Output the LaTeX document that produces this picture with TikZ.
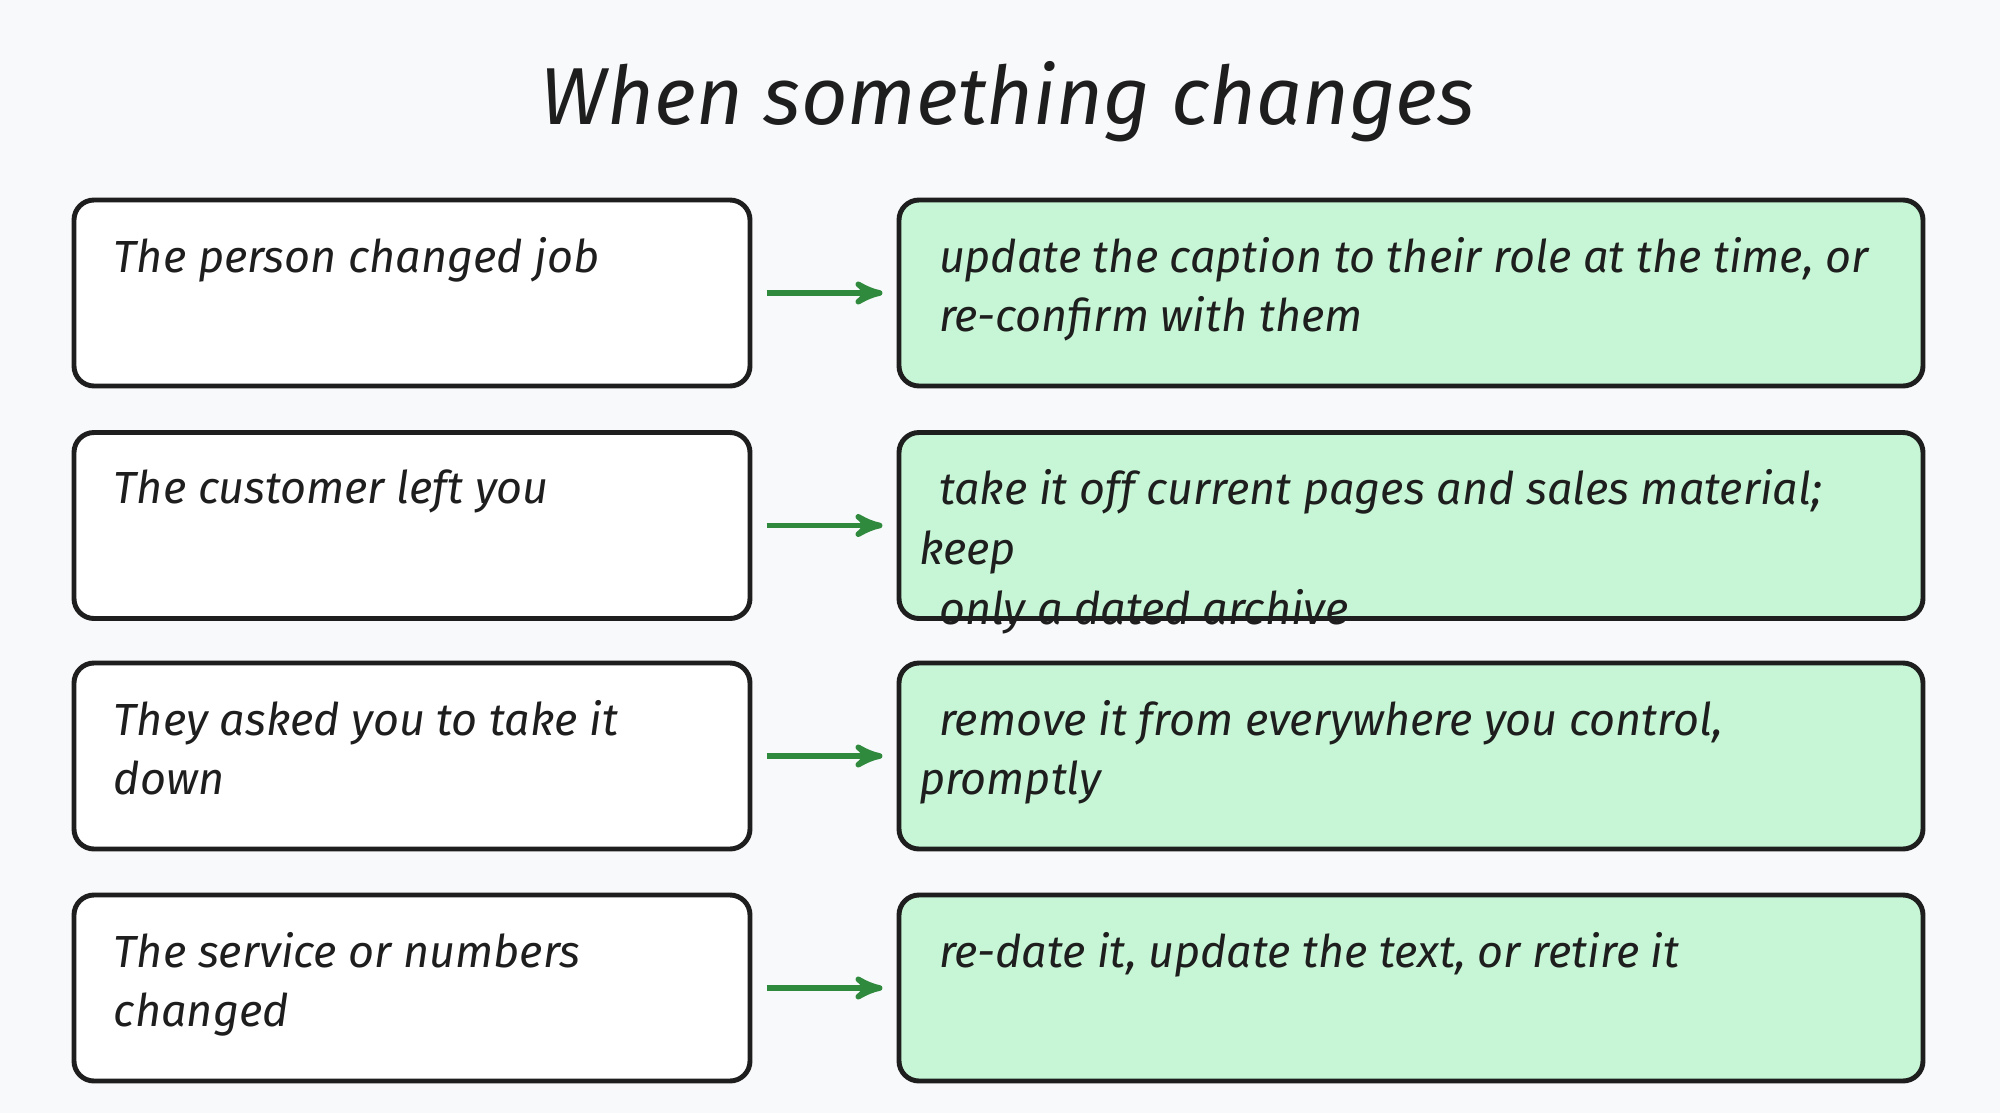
\documentclass[tikz,border=0pt]{standalone}
\usepackage{fontspec}
\setmainfont{Fira Sans}
\usetikzlibrary{arrows}
\definecolor{bgcol}{HTML}{F8F9FA}
\definecolor{actfill}{HTML}{C6F6D5}
\definecolor{arrcol}{HTML}{2F8A3E}
\definecolor{inkcol}{HTML}{1E1E1E}
\newcommand{\boxtxt}[2]{\parbox[t][1.12cm][t]{#1}{\raggedright #2}}
\begin{document}
\begin{tikzpicture}[->,>=stealth',semithick]
  \tikzstyle{cause}=[draw=inkcol,line width=1.4pt,rounded corners=0.2cm,fill=white,
                     inner xsep=0.4cm,inner ysep=0.37cm,text=inkcol,
                     font=\fontsize{12.8}{17}\selectfont\itshape]
  \tikzstyle{action}=[cause,fill=actfill,inner xsep=0.2cm]
  \tikzstyle{flow}=[draw=arrcol,line width=1.6pt,shorten >=4pt,shorten <=4pt]

  \fill[bgcol] (0,0) rectangle (20,11.13);

  \node[text=inkcol,font=\fontsize{23}{27}\selectfont\itshape] (title) at (10.08,10.11) {When something changes};

  \node[cause]  (C1) at (4.12,8.20)  {\boxtxt{5.96cm}{The person changed job}};
  \node[action] (A1) at (14.11,8.20) {\boxtxt{9.84cm}{\hspace*{0.2cm}update the caption to their role at the time, or\\\hspace*{0.2cm}re-confirm with them}};
  \node[cause]  (C2) at (4.12,5.875) {\boxtxt{5.96cm}{The customer left you}};
  \node[action] (A2) at (14.11,5.875){\boxtxt{9.84cm}{\hspace*{0.2cm}take it off current pages and sales material; keep\\\hspace*{0.2cm}only a dated archive}};
  \node[cause]  (C3) at (4.12,3.57)  {\boxtxt{5.96cm}{They asked you to take it down}};
  \node[action] (A3) at (14.11,3.57) {\boxtxt{9.84cm}{\hspace*{0.2cm}remove it from everywhere you control, promptly}};
  \node[cause]  (C4) at (4.12,1.25)  {\boxtxt{5.96cm}{The service or numbers changed}};
  \node[action] (A4) at (14.11,1.25) {\boxtxt{9.84cm}{\hspace*{0.2cm}re-date it, update the text, or retire it}};

  \path (C1) edge[flow] (A1)
        (C2) edge[flow] (A2)
        (C3) edge[flow] (A3)
        (C4) edge[flow] (A4);
\end{tikzpicture}
\end{document}
